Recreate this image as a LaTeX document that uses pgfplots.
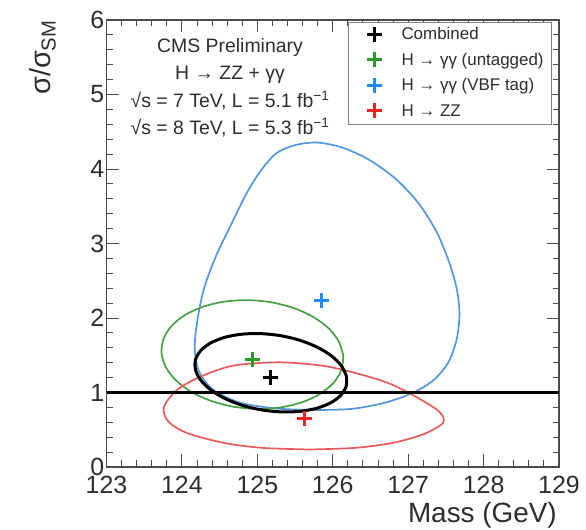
\documentclass[border=0pt]{standalone}
\usepackage{pgfplots}
\pgfplotsset{compat=1.18}
\usepackage{fontspec}
\setmainfont{Liberation Sans}
\definecolor{cblue}{RGB}{85,150,225}
\definecolor{cbluem}{RGB}{30,140,255}
\definecolor{cgreen}{RGB}{70,160,70}
\definecolor{cgreenm}{RGB}{40,155,40}
\definecolor{cred}{RGB}{235,90,90}
\definecolor{credm}{RGB}{240,35,35}
\definecolor{txt}{RGB}{45,45,45}
\begin{document}
\begin{tikzpicture}
\path[use as bounding box] (0bp,0bp) rectangle (586bp,530bp);
\begin{axis}[
 at={(106.5bp,63bp)}, anchor=south west, scale only axis,
 width=452.5bp, height=447bp,
 xmin=123, xmax=129, ymin=0, ymax=6,
 xtick={123,124,...,129}, ytick={0,1,...,6},
 minor x tick num=4, minor y tick num=4,
 tick align=inside,
 major tick length=12.5bp, minor tick length=6.5bp,
 axis line style={black!70, line width=1.3bp},
 tick style={black!70, line width=0.9bp},
 /pgf/number format/assume math mode=true,
 ticklabel style={font=\fontsize{25}{28}\selectfont, text=txt},
 xticklabel style={inner ysep=9bp},
 yticklabel style={inner xsep=2bp},
 legend style={at={(axis description cs:0.5337,0.9955)}, anchor=north west,
   draw=black!50, line width=1bp, fill=white, inner xsep=8bp, inner ysep=4.5bp,
   font=\fontsize{17}{20}\selectfont, text=txt,
   nodes={inner sep=0pt, text height=12.5bp, text depth=4bp},
   row sep=8.7bp, column sep=0pt},
 legend cell align=left,
 legend image code/.code={\path (0bp,0bp) (44bp,0bp); \draw[#1] plot coordinates {(17bp,1bp)};},
]
% H -> gamma gamma (VBF tag) contour
\addplot[cblue, line width=1.7bp, smooth, forget plot] coordinates {
(125.79,0.765) (126.25,0.78) (126.68,0.86) (127.05,0.99) (127.33,1.16) (127.53,1.40) (127.64,1.70) (127.68,2.03) (127.65,2.36) (127.55,2.73) (127.38,3.15) (127.13,3.55) (126.82,3.88) (126.47,4.13) (126.12,4.29) (125.79,4.355) (125.50,4.32) (125.25,4.21) (125.04,3.97) (124.85,3.66) (124.66,3.27) (124.46,2.85) (124.30,2.42) (124.21,2.00) (124.17,1.62) (124.22,1.30) (124.40,1.05) (124.75,0.87) (125.25,0.785) (125.79,0.765)};
% H -> gamma gamma (untagged) contour
\addplot[cgreen, line width=1.7bp, smooth, forget plot] coordinates {
(126.140,1.490) (126.083,1.680) (125.949,1.858) (125.745,2.012) (125.486,2.132) (125.189,2.210) (124.875,2.240) (124.565,2.220) (124.281,2.152) (124.041,2.040) (123.861,1.892) (123.756,1.718) (123.730,1.530) (123.787,1.340) (123.921,1.162) (124.125,1.008) (124.385,0.888) (124.681,0.810) (124.995,0.780) (125.305,0.800) (125.590,0.868) (125.829,0.980) (126.009,1.128) (126.115,1.302) (126.140,1.490)};
% H -> ZZ contour
\addplot[cred, line width=1.7bp, smooth, forget plot] coordinates {
(125.70,0.235) (126.30,0.257) (126.79,0.323) (127.19,0.435) (127.44,0.57) (127.47,0.66) (127.38,0.77) (127.14,0.92) (126.80,1.10) (126.45,1.22) (125.92,1.35) (125.30,1.405) (124.68,1.36) (124.24,1.21) (123.93,1.03) (123.76,0.80) (123.82,0.61) (124.07,0.455) (124.56,0.323) (125.06,0.257) (125.70,0.235)};
% Combined contour
\addplot[black, line width=3bp, smooth, forget plot] coordinates {
(126.180,1.225) (126.112,1.362) (125.981,1.493) (125.795,1.608) (125.567,1.700) (125.313,1.762) (125.050,1.790) (124.795,1.783) (124.567,1.740) (124.381,1.665) (124.249,1.562) (124.180,1.440) (124.180,1.305) (124.248,1.168) (124.379,1.037) (124.565,0.922) (124.793,0.830) (125.047,0.768) (125.310,0.740) (125.565,0.747) (125.793,0.790) (125.979,0.865) (126.111,0.968) (126.180,1.090) (126.180,1.225)};
% SM line
\addplot[black, line width=2.5bp, forget plot] coordinates {(123,1) (129,1)};
% best fits
\addplot[black, only marks, mark=+, mark size=7.5bp, mark options={line width=3bp}] coordinates {(125.18,1.20)};
\addlegendentry{Combined}
\addplot[cgreenm, only marks, mark=+, mark size=7.5bp, mark options={line width=3bp}] coordinates {(124.93,1.44)};
\addlegendentry{H → γγ (untagged)}
\addplot[cbluem, only marks, mark=+, mark size=7.5bp, mark options={line width=3bp}] coordinates {(125.85,2.24)};
\addlegendentry{H → γγ (VBF tag)}
\addplot[credm, only marks, mark=+, mark size=7.5bp, mark options={line width=3bp}] coordinates {(125.63,0.65)};
\addlegendentry{H → ZZ}
\end{axis}
\node[anchor=base, font=\fontsize{19.5}{22}\selectfont, text=txt] at (230bp,477bp) {CMS Preliminary};
\node[anchor=base, font=\fontsize{19.5}{22}\selectfont, text=txt] at (230bp,450bp) {H → ZZ + γγ};
\node[anchor=base, font=\fontsize{19.5}{22}\selectfont, text=txt] at (230bp,422bp) {√s = 7 TeV, L = 5.1 fb\textsuperscript{−1}};
\node[anchor=base, font=\fontsize{19.5}{22}\selectfont, text=txt] at (230bp,395bp) {√s = 8 TeV, L = 5.3 fb\textsuperscript{−1}};
\node[anchor=base east, font=\fontsize{28}{32}\selectfont, text=txt, inner sep=0pt] at (557bp,8bp) {Mass (GeV)};
\node[anchor=base east, rotate=90, font=\fontsize{29}{33}\selectfont, text=txt, inner sep=0pt] at (50bp,510bp) {σ/σ\textsubscript{SM}};
\end{tikzpicture}
\end{document}
